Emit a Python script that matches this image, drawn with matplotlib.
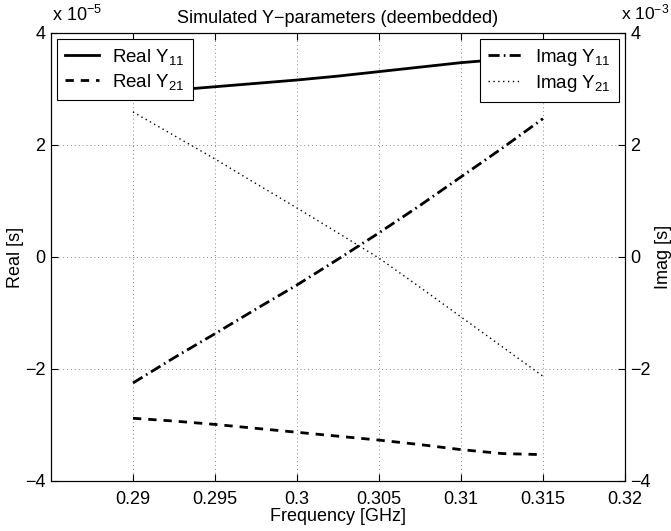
import matplotlib.pyplot as plt
import numpy as np

plt.rcParams['font.family'] = ['Liberation Sans', 'DejaVu Sans']
plt.rcParams['mathtext.fontset'] = 'custom'
plt.rcParams['mathtext.rm'] = 'Liberation Sans'
plt.rcParams['mathtext.it'] = 'Liberation Sans:italic'
plt.rcParams['font.size'] = 13

# Frequency sweep [GHz]
freq = [0.29, 0.2925, 0.295, 0.2975, 0.30, 0.3025, 0.305, 0.3075, 0.31, 0.3125, 0.315]

# Real parts, units of 1e-5 S
real_y11 = [2.93, 2.98, 3.04, 3.10, 3.16, 3.23, 3.31, 3.39, 3.47, 3.53, 3.58]
real_y21 = [-2.88, -2.93, -2.99, -3.06, -3.13, -3.20, -3.27, -3.35, -3.44, -3.51, -3.53]

# Imaginary parts, units of 1e-3 S
imag_y11 = [-2.25, -1.80, -1.37, -0.93, -0.50, -0.04, 0.43, 0.92, 1.43, 1.94, 2.47]
imag_y21 = [2.59, 2.17, 1.75, 1.31, 0.875, 0.43, -0.02, -0.54, -1.07, -1.60, -2.13]

xticks = [0.29, 0.295, 0.3, 0.305, 0.31, 0.315, 0.32]
yticks = [-4, -2, 0, 2, 4]

fig = plt.figure(figsize=(6.71, 5.31), dpi=100)
ax1 = fig.add_axes([0.076, 0.0942, 0.8554, 0.8437])
ax2 = ax1.twinx()

l1, = ax1.plot(freq, real_y11, color='black', lw=2.0, label='Real Y$_{11}$')
l2, = ax1.plot(freq, real_y21, color='black', lw=2.0, dashes=(3, 2.5),
               label='Real Y$_{21}$')
l3, = ax2.plot(freq, imag_y11, color='black', lw=2.0, dashes=(4, 1.5, 0.6, 1.5),
               label='Imag Y$_{11}$')
l4, = ax2.plot(freq, imag_y21, color='black', lw=1.0, dashes=(1, 2.5),
               label='Imag Y$_{21}$')

for ax in (ax1, ax2):
    ax.set_xlim(0.285, 0.32)
    ax.set_ylim(-4, 4)
    ax.set_yticks(yticks)
    ax.set_yticklabels([str(t).replace('-', '\u2212') for t in yticks])
    ax.tick_params(direction='in', length=5, width=0.8, labelsize=13, pad=4)
    for s in ax.spines.values():
        s.set_linewidth(0.8)

ax1.set_xticks(xticks)
ax1.set_xticklabels(['0.29', '0.295', '0.3', '0.305', '0.31', '0.315', '0.32'])
ax1.tick_params(axis='x', top=True, pad=7)
ax1.grid(True, color='#888888', linestyle=(0, (1, 3)), linewidth=0.7)

ax1.set_title('Simulated Y\u2212parameters (deembedded)', fontsize=13, pad=7)
ax1.set_xlabel('Frequency [GHz]', fontsize=13, labelpad=0)
ax1.set_ylabel('Real [s]', fontsize=13, labelpad=1)
ax2.set_ylabel('Imag [s]', fontsize=13, labelpad=3)

# exponent labels for the two y axes
fig.text(0.077, 0.953, 'x 10$^{\u22125}$', fontsize=13, ha='left', va='bottom')
fig.text(0.997, 0.958, 'x 10$^{\u22123}$', fontsize=12.5, ha='right', va='bottom')

leg_kw = dict(fancybox=False, framealpha=1, edgecolor='black', handlelength=1.8,
              borderaxespad=0.3, labelspacing=0.25, borderpad=0.45,
              handletextpad=0.7, fontsize=13.5)
lg1 = ax1.legend(handles=[l1, l2], loc='upper left', **leg_kw)
lg1.get_frame().set_linewidth(0.8)
lg2 = ax2.legend(handles=[l3, l4], loc='upper right', **leg_kw)
lg2.get_frame().set_linewidth(0.8)

fig.savefig('out.png', dpi=100)
